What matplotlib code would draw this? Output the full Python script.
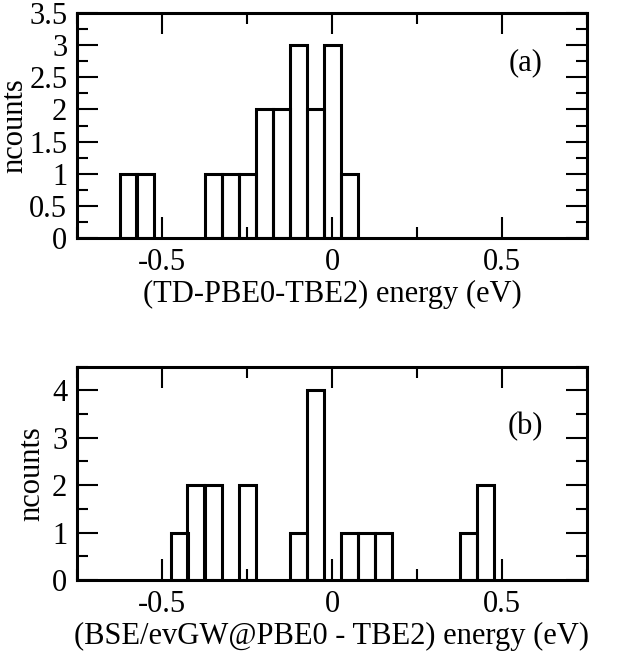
import numpy as np
import matplotlib
matplotlib.use("Agg")
import matplotlib.pyplot as plt
from matplotlib.ticker import MultipleLocator

plt.rcParams['font.family'] = ['Liberation Serif', 'DejaVu Serif']
plt.rcParams['font.size'] = 22

# bin centres (eV) and counts, bin width 0.05
bin_width = 0.05
centers_a = [-0.60, -0.55, -0.35, -0.30, -0.25, -0.20, -0.15, -0.10, -0.05, 0.00, 0.05]
counts_a = [1, 1, 1, 1, 1, 2, 2, 3, 2, 3, 1]

centers_b = [-0.45, -0.40, -0.35, -0.25, -0.10, -0.05, 0.05, 0.10, 0.15, 0.40, 0.45]
counts_b = [1, 2, 2, 2, 1, 4, 1, 1, 1, 1, 2]

xlabel_a = "(TD-PBE0-TBE2) energy (eV)"
xlabel_b = "(BSE/evGW@PBE0 - TBE2) energy (eV)"

fig = plt.figure(figsize=(6.25, 6.53), dpi=100)
ax1 = fig.add_axes([0.1232, 0.6355, 0.816, 0.3446])
ax2 = fig.add_axes([0.1232, 0.1118, 0.816, 0.3267])


def style(ax, ymax, ymajor, yminor, label, tag, ty, ylx):
    ax.set_xlim(-0.75, 0.75)
    ax.set_ylim(0, ymax)
    ax.xaxis.set_major_locator(MultipleLocator(0.5))
    ax.xaxis.set_minor_locator(MultipleLocator(0.25))
    ax.yaxis.set_major_locator(MultipleLocator(ymajor))
    ax.yaxis.set_minor_locator(MultipleLocator(yminor))
    ax.xaxis.set_major_formatter(plt.FuncFormatter(lambda v, p: f"{v:g}"))
    ax.yaxis.set_major_formatter(plt.FuncFormatter(lambda v, p: f"{v:g}"))
    ax.tick_params(which='both', direction='in', top=True, right=True, width=1.5)
    ax.tick_params(which='major', length=15, pad=7)
    ax.tick_params(which='minor', length=8)
    for s in ax.spines.values():
        s.set_linewidth(2.2)
    ax.set_xlabel(label, labelpad=2)
    ax.set_ylabel("ncounts", va='center')
    ax.yaxis.set_label_coords(ylx, 0.5)
    ax.text(0.88, ty, tag, transform=ax.transAxes, ha='center', va='center')


ax1.bar(centers_a, counts_a, width=bin_width, fill=False, edgecolor='black', linewidth=2.2)
ax2.bar(centers_b, counts_b, width=bin_width, fill=False, edgecolor='black', linewidth=2.2)

style(ax1, 3.5, 0.5, 0.25, xlabel_a, "(a)", 0.78, -0.122)
style(ax2, 4.5, 1, 0.5, xlabel_b, "(b)", 0.72, -0.088)

fig.savefig("out.png", dpi=100)
